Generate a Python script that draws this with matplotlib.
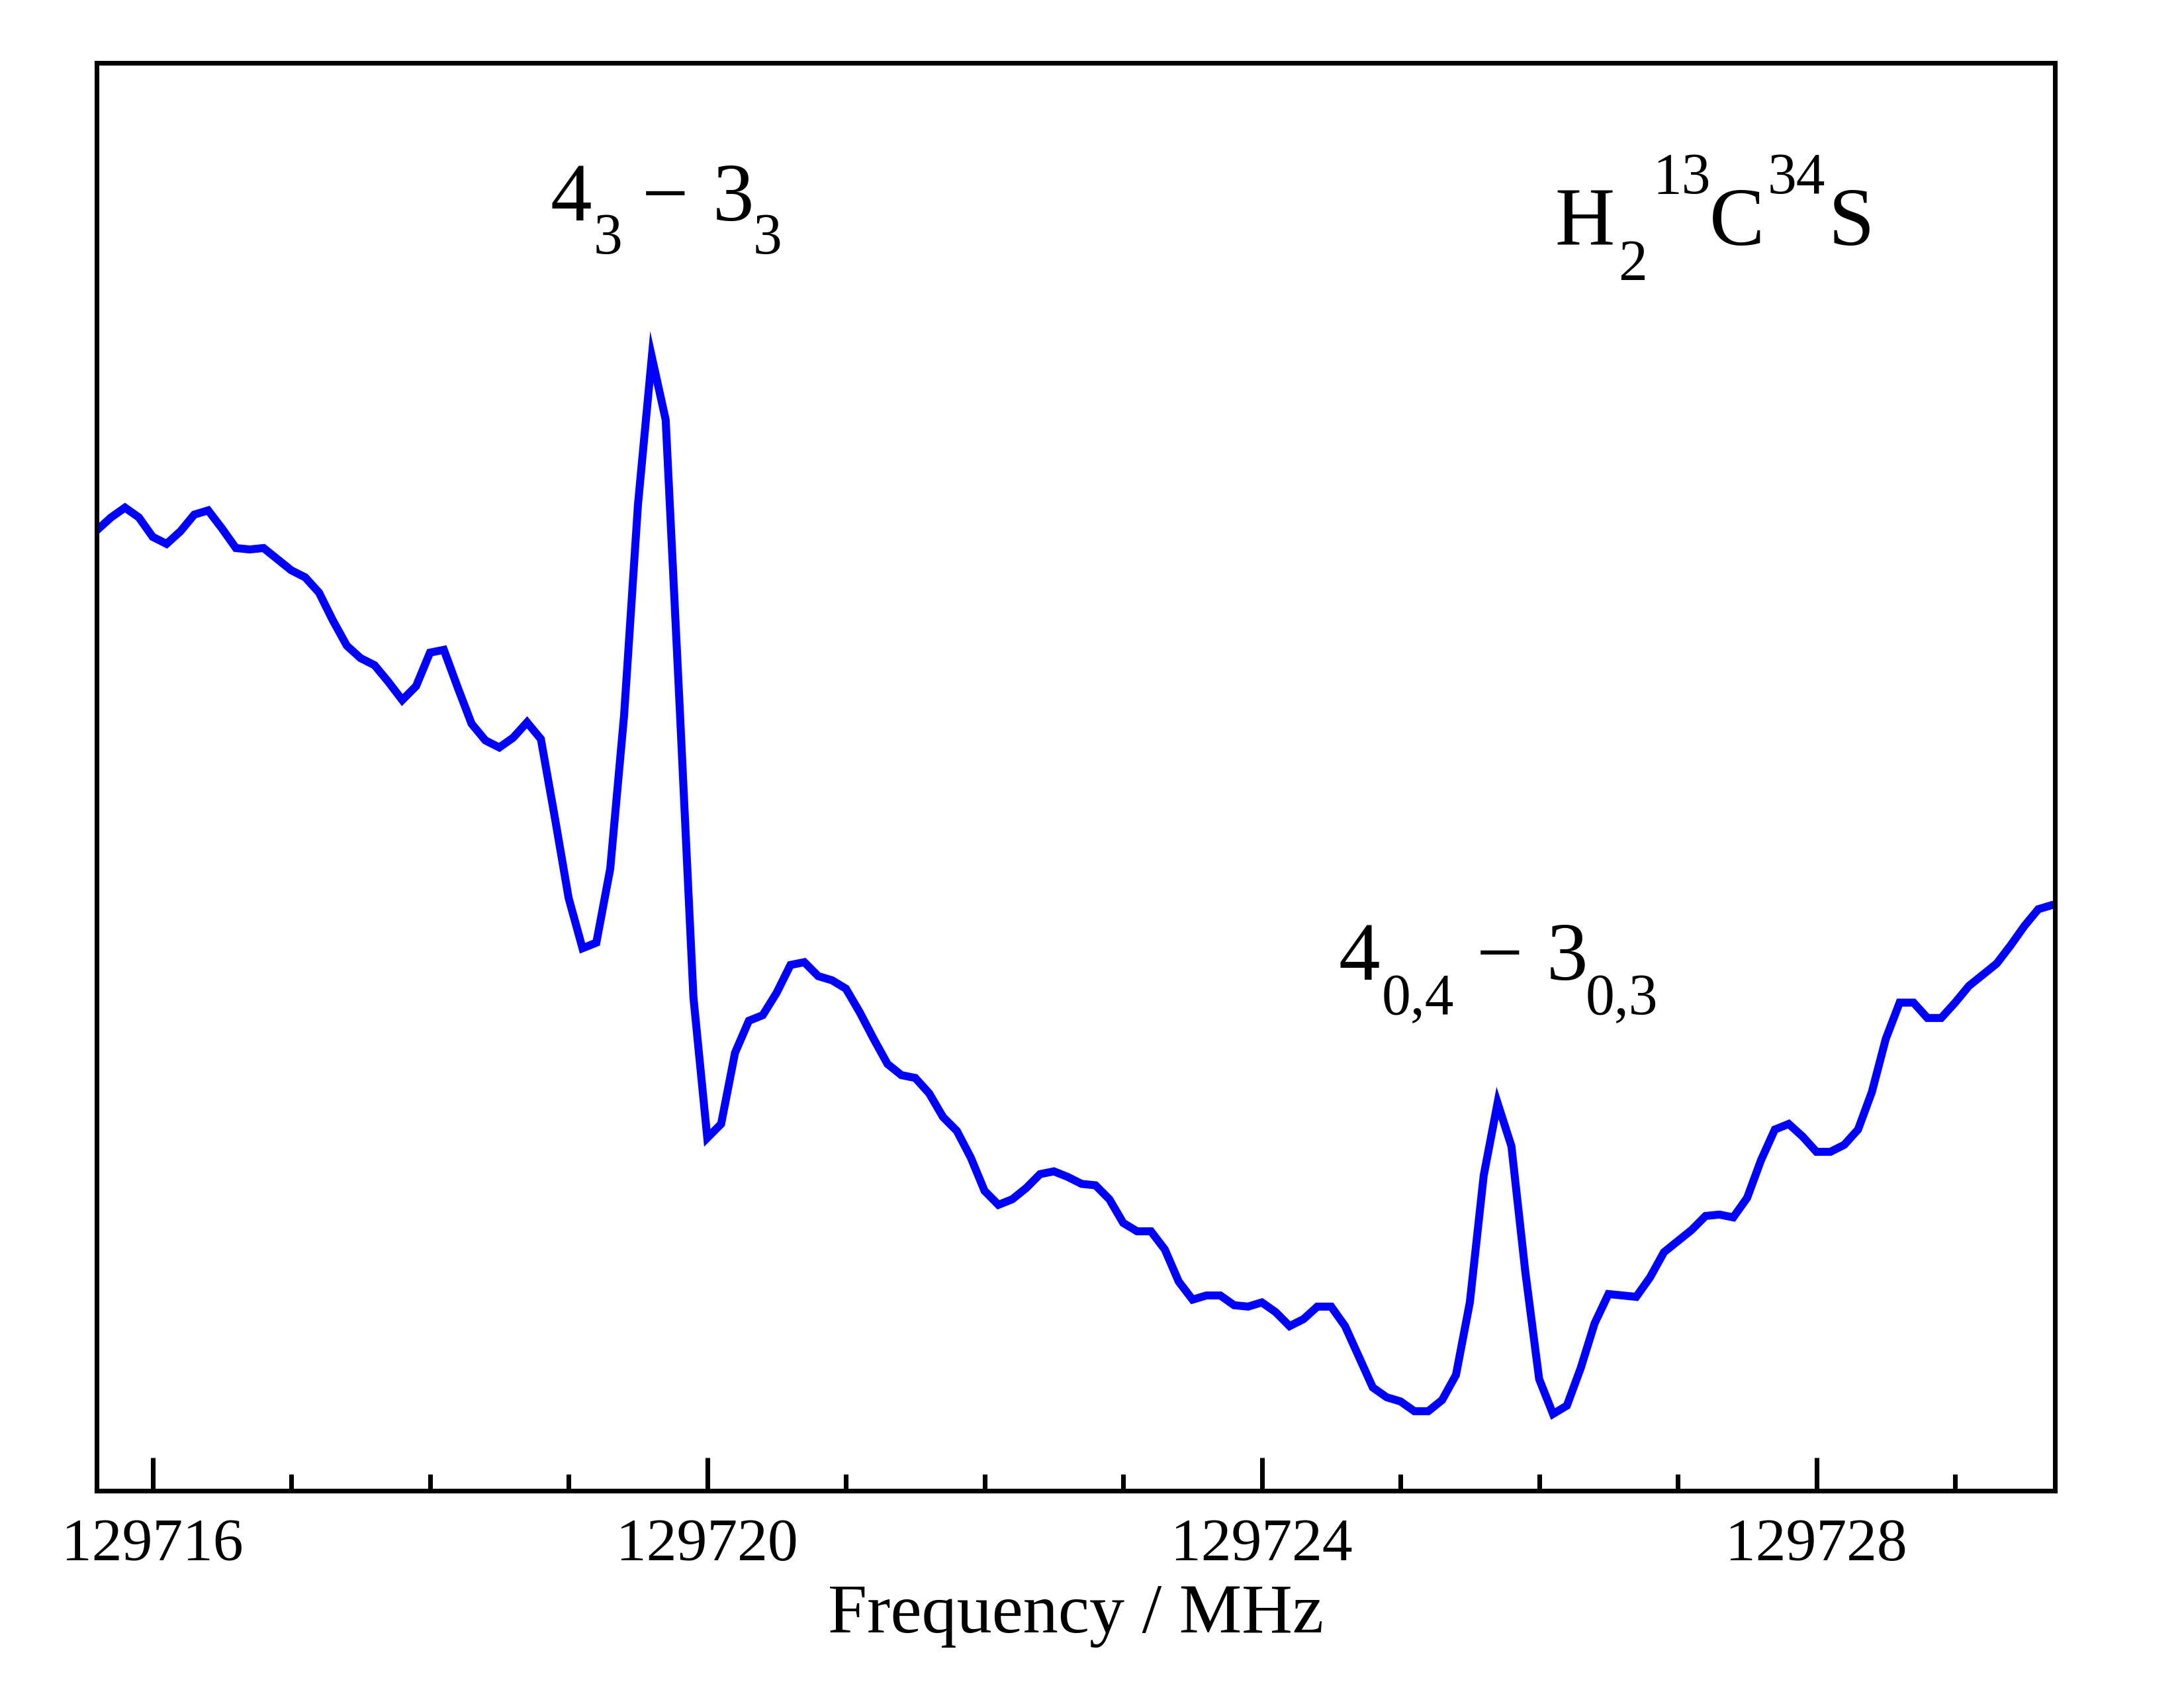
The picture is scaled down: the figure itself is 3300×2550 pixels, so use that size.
import numpy as np
import matplotlib
matplotlib.use("Agg")
import matplotlib.pyplot as plt

plt.rcParams['font.family'] = ['Liberation Serif', 'DejaVu Serif']

# spectrum, 0.1 MHz steps starting at 129715.6 MHz (intensity in arb. units)
f_start = 129715.6
f_step = 0.1
intensity = [
    68.9, 69.8, 70.5, 69.8, 68.4, 67.9, 68.8, 70.0, 70.3, 69.0,
    67.6, 67.5, 67.6, 66.8, 66.0, 65.5, 64.4, 62.4, 60.6, 59.7,
    59.2, 58.0, 56.7, 57.7, 60.1, 60.3, 57.6, 55.0, 53.8, 53.3,
    54.0, 55.1, 53.9, 48.3, 42.5, 38.9, 39.3, 44.6, 55.6, 70.7,
    81.3, 76.8, 56.4, 35.4, 25.3, 26.3, 31.4, 33.7, 34.1, 35.7,
    37.7, 37.9, 36.9, 36.6, 36.0, 34.3, 32.4, 30.6, 29.8, 29.6,
    28.5, 26.8, 25.8, 23.9, 21.5, 20.5, 20.9, 21.7, 22.7, 22.9,
    22.5, 22.0, 21.9, 20.9, 19.2, 18.6, 18.6, 17.3, 15.0, 13.7,
    14.0, 14.0, 13.3, 13.2, 13.5, 12.8, 11.8, 12.3, 13.2, 13.2,
    11.8, 9.6, 7.4, 6.7, 6.4, 5.7, 5.7, 6.5, 8.3, 13.5,
    22.6, 27.8, 24.7, 15.7, 8.0, 5.5, 6.1, 8.8, 12.0, 14.1,
    14.0, 13.9, 15.3, 17.1, 17.9, 18.7, 19.7, 19.8, 19.6, 21.0,
    23.7, 25.9, 26.3, 25.4, 24.3, 24.3, 24.8, 25.9, 28.6, 32.4,
    35.0, 35.0, 33.9, 33.9, 35.0, 36.2, 37.0, 37.8, 39.1, 40.5,
    41.7, 42.0, 42.1,
]
freq = f_start + f_step * np.arange(len(intensity))

major_ticks = [129716, 129720, 129724, 129728]
minor_ticks = list(range(129717, 129730))

# labels built from pieces: (text, x, y, size) in axes fraction
big, small = 30, 21
label_433 = [('4', 0.2318, 0.8898, big), ('3', 0.2538, 0.8666, small),
             ('\u2212', 0.2784, 0.8898, big), ('3', 0.3146, 0.8898, big),
             ('3', 0.3353, 0.8666, small)]
label_404 = [('4', 0.6342, 0.3579, big), ('0,4', 0.6562, 0.3339, small),
             ('\u2212', 0.7047, 0.3579, big), ('3', 0.7403, 0.3579, big),
             ('0,3', 0.7603, 0.3339, small)]
label_mol = [('H', 0.7448, 0.8725, big), ('2', 0.7769, 0.8481, small),
             ('13', 0.7946, 0.9088, small), ('C', 0.8237, 0.8725, big),
             ('34', 0.8531, 0.9088, small), ('S', 0.8844, 0.8725, big)]

fig = plt.figure(figsize=(11, 8.5), dpi=300)
ax = fig.add_axes([0.0442, 0.1169, 0.8967, 0.8459])

ax.plot(freq, intensity, color='#0000ff', lw=2.9, solid_joinstyle='miter')

ax.set_xlim(129715.595, 129729.72)
ax.set_ylim(0, 102.4)

ax.set_xticks(major_ticks)
ax.set_xticklabels([str(t) for t in major_ticks])
ax.set_xticks([t for t in minor_ticks if t not in major_ticks], minor=True)
ax.set_yticks([])
ax.tick_params(axis='x', which='major', direction='in', length=12, width=1.7,
               labelsize=22, pad=10, top=False)
ax.tick_params(axis='x', which='minor', direction='in', length=6, width=1.7, top=False)
for s in ax.spines.values():
    s.set_linewidth(1.7)

ax.set_xlabel('Frequency / MHz', fontsize=25.5, labelpad=4)

for pieces in (label_433, label_404, label_mol):
    for txt, x, y, size in pieces:
        ax.text(x, y, txt, transform=ax.transAxes, fontsize=size,
                ha='left', va='baseline')

fig.savefig('out.png', dpi=300)
